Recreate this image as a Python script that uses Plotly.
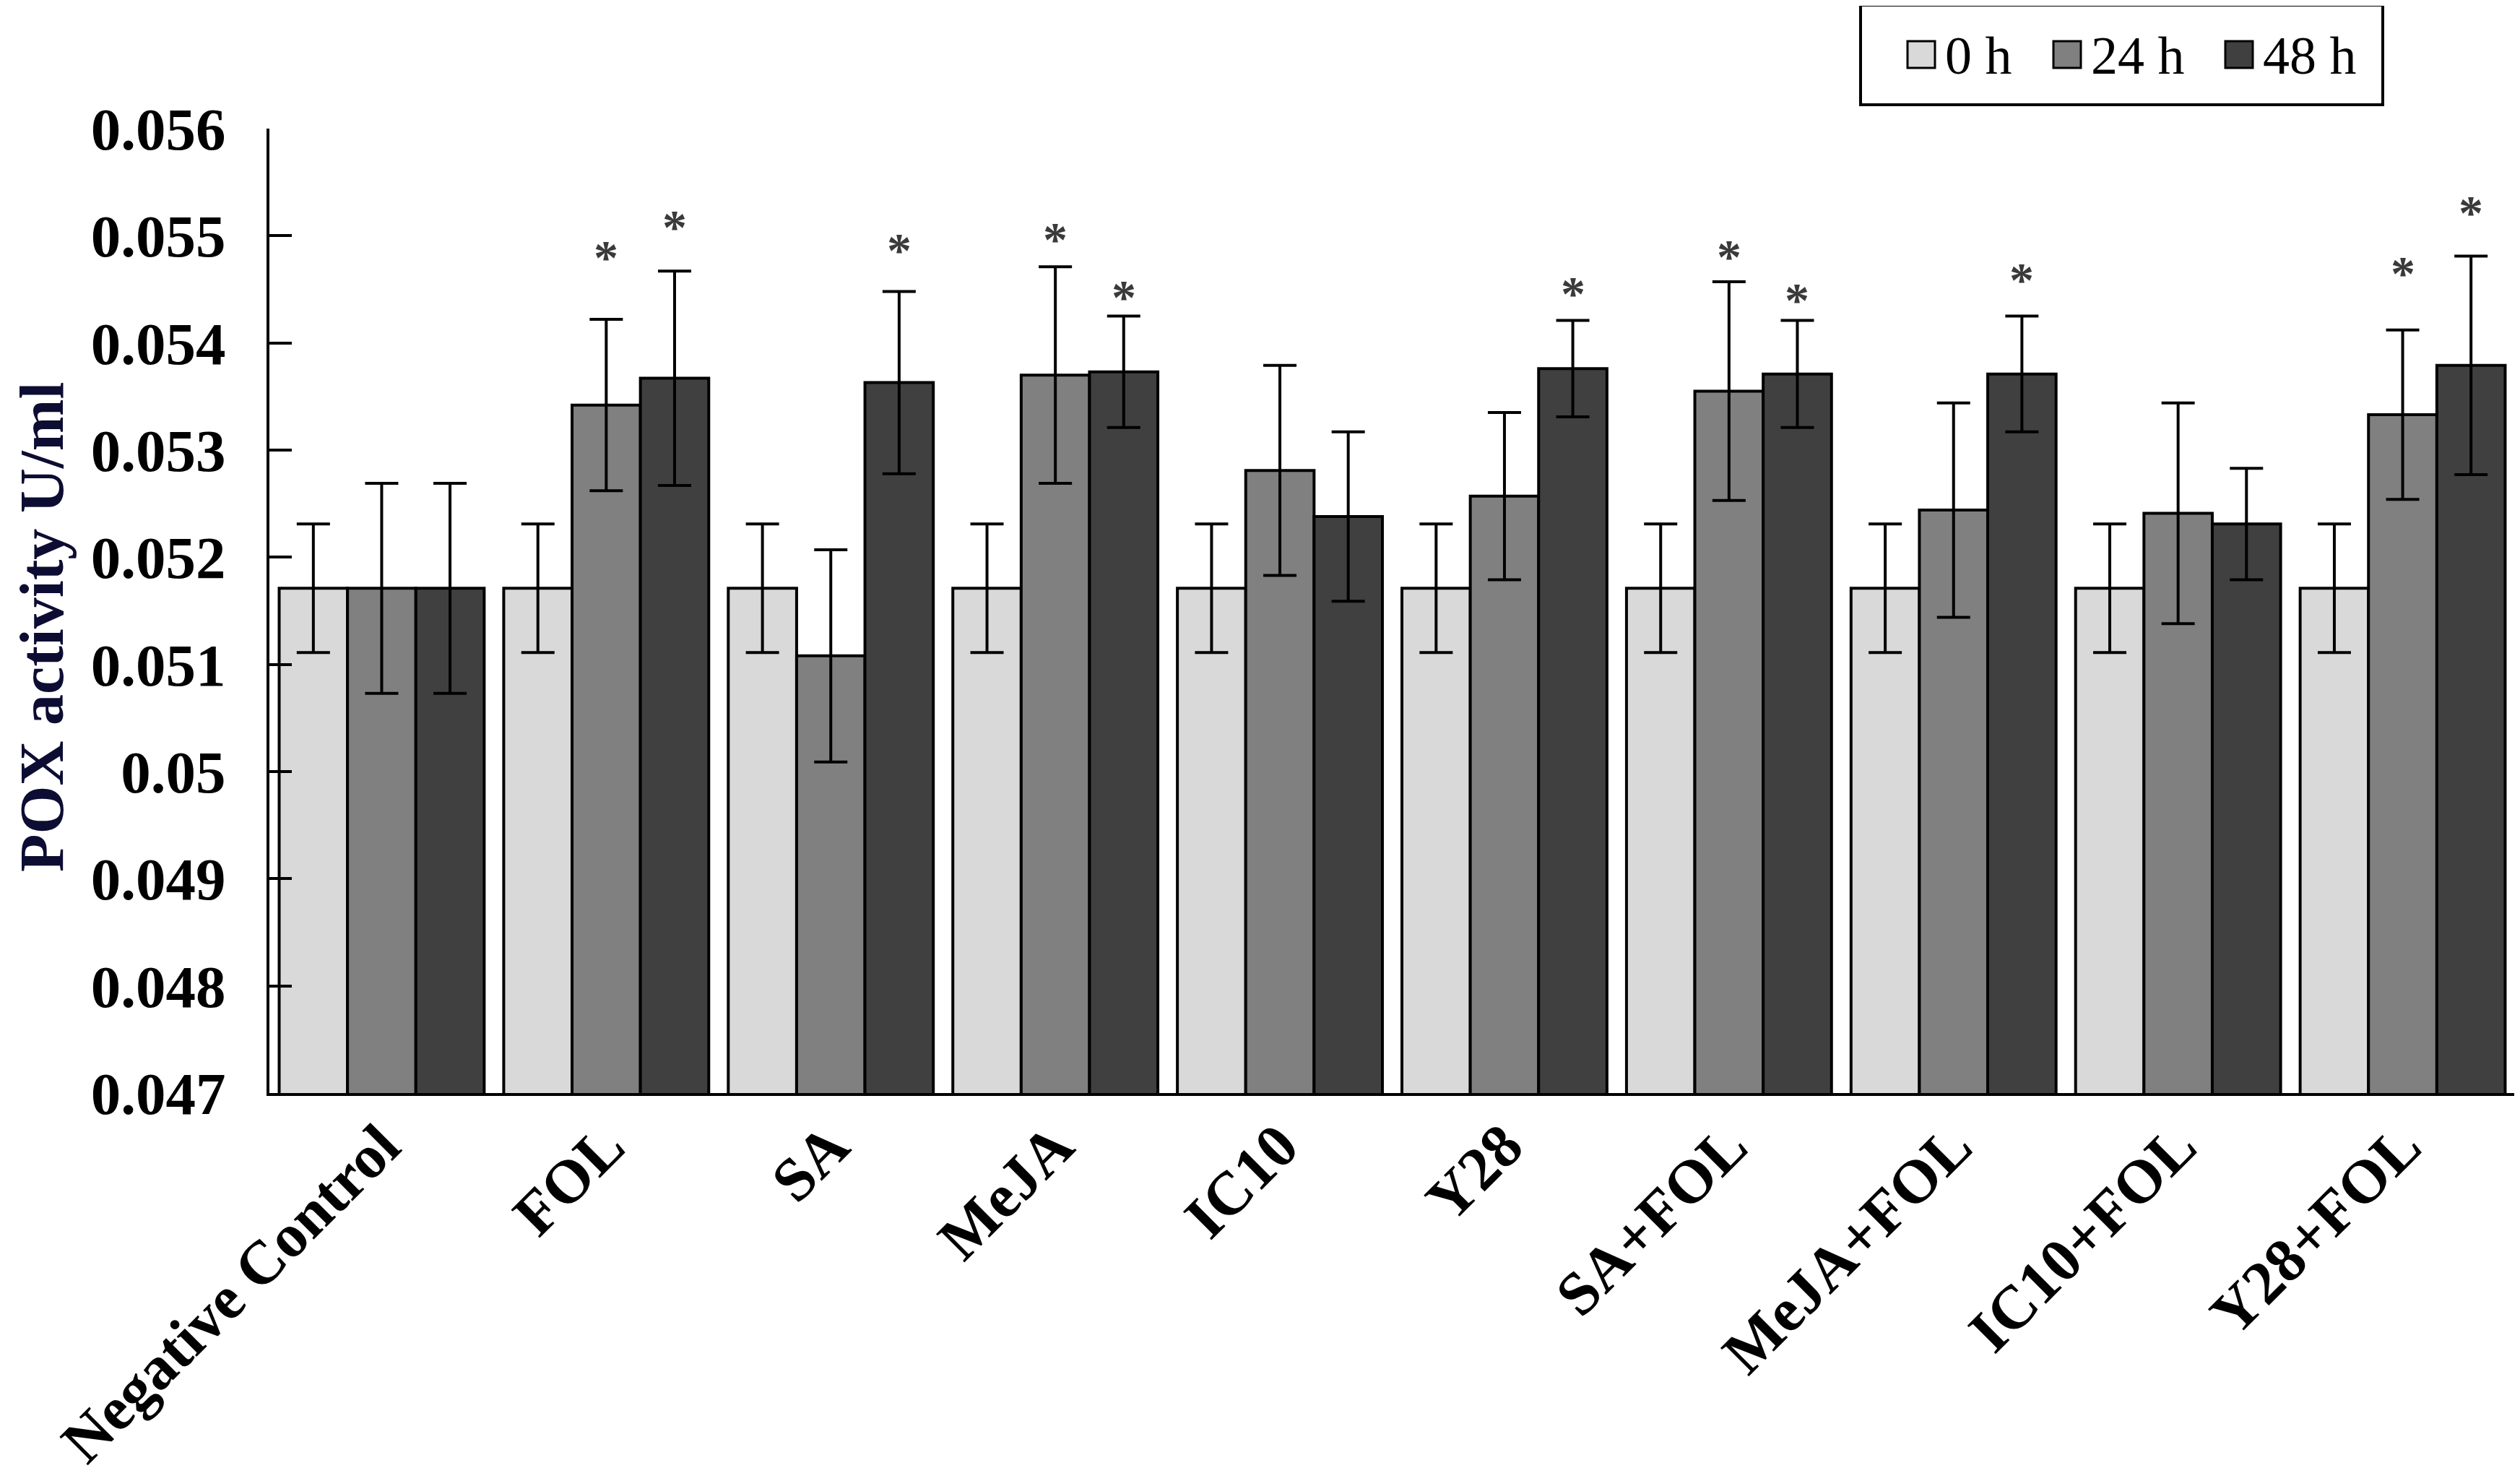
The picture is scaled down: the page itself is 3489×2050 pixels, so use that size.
import plotly.graph_objects as go

# POX activity (U/ml) per treatment and sampling time
categories = ["Negative Control", "FOL", "SA", "MeJA", "IC10", "Y28",
              "SA+FOL", "MeJA+FOL", "IC10+FOL", "Y28+FOL"]
series_names = ["0 h", "24 h", "48 h"]

h0 = [0.05171, 0.05171, 0.05171, 0.05171, 0.05171, 0.05171, 0.05171, 0.05171, 0.05171, 0.05171]
h0_err = [0.0006, 0.0006, 0.0006, 0.0006, 0.0006, 0.0006, 0.0006, 0.0006, 0.0006, 0.0006]
h24 = [0.05171, 0.05342, 0.05108, 0.05370, 0.05281, 0.05257, 0.05355, 0.05244, 0.05241, 0.05333]
h24_err = [0.00098, 0.00080, 0.00099, 0.00101, 0.00098, 0.00078, 0.00102, 0.00100, 0.00103, 0.00079]
h48 = [0.05171, 0.05367, 0.05363, 0.05373, 0.05238, 0.05376, 0.05371, 0.05371, 0.05231, 0.05379]
h48_err = [0.00098, 0.00100, 0.00085, 0.00052, 0.00079, 0.00045, 0.00050, 0.00054, 0.00052, 0.00102]

# significance stars: (category index, series index, y position)
star_cat = [1, 1, 2, 3, 3, 5, 6, 6, 7, 9, 9]
star_series = [1, 2, 2, 1, 2, 2, 1, 2, 2, 1, 2]
star_y = [0.05480, 0.05508, 0.05487, 0.05497, 0.05443, 0.05446, 0.05481, 0.05440, 0.05459, 0.05465, 0.05522]

y_ticks = [0.047, 0.048, 0.049, 0.050, 0.051, 0.052, 0.053, 0.054, 0.055, 0.056]
y_tick_labels = ["0.047", "0.048", "0.049", "0.05", "0.051", "0.052", "0.053", "0.054", "0.055", "0.056"]

colors = ["#d9d9d9", "#808080", "#404040"]
means = [h0, h24, h48]
errs = [h0_err, h24_err, h48_err]

# the page body adds an 8px margin, so the figure is drawn 8px smaller
OFF = 8
W, H = 3489 - OFF, 2050 - OFF
ML, MT = 373 - OFF, 178 - OFF
MR = W - (3482 - OFF)
MB = H - (1513 - OFF)
BARGAP = 0.087
SERIF = "Liberation Serif, Times New Roman, serif"

fig = go.Figure()
for name, vals, err, col in zip(series_names, means, errs, colors):
    fig.add_trace(go.Bar(
        x=list(range(len(categories))), y=vals, name=name,
        marker=dict(color=col, line=dict(color="black", width=4)),
        error_y=dict(type="data", array=err, color="black", thickness=4, width=23),
        showlegend=False,
    ))

# stars above the error bars
bar_w = (1 - BARGAP) / 3
for c, s, y in zip(star_cat, star_series, star_y):
    fig.add_annotation(x=c + (s - 1) * bar_w, y=y, text="*", showarrow=False,
                       font=dict(family=SERIF, size=68, color="#3a3a3a", weight="bold"),
                       yanchor="middle")

# page pixel -> paper helpers
pw, ph = W - ML - MR, H - MT - MB
def px(x):
    return (x - OFF - ML) / pw
def py(y):
    return (H - MB - (y - OFF)) / ph

# y axis title
fig.add_annotation(xref="paper", yref="paper", x=px(58), y=py(868),
                   text="POX activity U/ml", textangle=-90, showarrow=False,
                   xanchor="center", yanchor="middle", borderpad=0,
                   font=dict(family=SERIF, size=86, color="#0d0d33", weight="bold"))

# custom legend box
fig.add_shape(type="rect", xref="paper", yref="paper",
              x0=px(2576), x1=px(3299), y0=py(145), y1=py(7),
              line=dict(color="black", width=4), fillcolor="white")
sw_x = [2641, 2843, 3081]
for name, col, sx in zip(series_names, colors, sw_x):
    fig.add_shape(type="rect", xref="paper", yref="paper",
                  x0=px(sx), x1=px(sx + 38), y0=py(94), y1=py(57),
                  line=dict(color="black", width=3), fillcolor=col)
    fig.add_annotation(xref="paper", yref="paper", x=px(sx + 50), y=py(77),
                       text=name, showarrow=False, xanchor="left", yanchor="middle",
                       font=dict(family=SERIF, size=74, color="black"))

fig.update_layout(
    width=W, height=H,
    margin=dict(l=ML, r=MR, t=MT, b=MB, autoexpand=False),
    plot_bgcolor="white", paper_bgcolor="white",
    barmode="group", bargap=BARGAP, bargroupgap=0,
    font=dict(family=SERIF, color="black"),
    xaxis=dict(
        tickmode="array", tickvals=list(range(len(categories))), ticktext=categories,
        range=[-0.5, len(categories) - 0.5], automargin=False,
        tickangle=-45, ticks="", showgrid=False, zeroline=False,
        showline=True, linecolor="black", linewidth=4,
        tickfont=dict(family=SERIF, size=85, color="black", weight="bold"),
        ticklabelstandoff=-15,
    ),
    yaxis=dict(
        range=[0.047, 0.056], tickmode="array", tickvals=y_ticks, ticktext=y_tick_labels,
        automargin=False,
        ticks="inside", ticklen=31, tickwidth=4, tickcolor="black",
        showgrid=False, zeroline=False,
        showline=True, linecolor="black", linewidth=4,
        tickfont=dict(family=SERIF, size=83, color="black", weight="bold"),
        ticklabelstandoff=40,
    ),
)

fig.write_html("out.html")
